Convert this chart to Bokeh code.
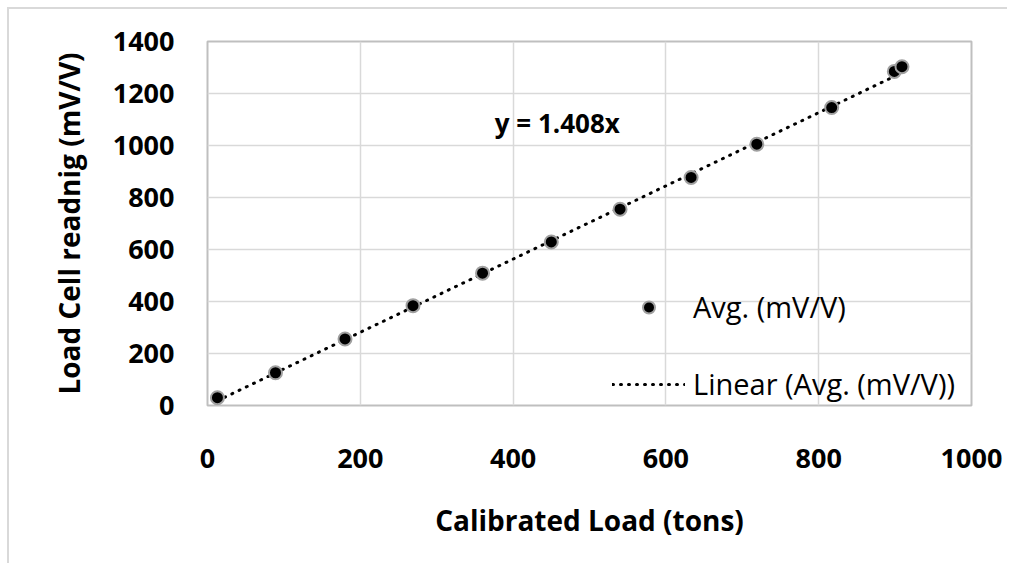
from bokeh.plotting import figure
from bokeh.models import Range1d, FixedTicker, Legend, LegendItem, Label
from bokeh.embed import file_html
from bokeh.resources import INLINE

# ---- data ----
load_tons = [13, 89, 180, 269, 360, 450, 540, 633, 719, 817, 899, 909]
avg_mv_v = [30, 126, 256, 384, 509, 629, 755, 877, 1005, 1146, 1285, 1303]
slope = 1.408
x_ticks = [0, 200, 400, 600, 800, 1000]
y_ticks = [0, 200, 400, 600, 800, 1000, 1200, 1400]
x_label = "Calibrated Load (tons)"
y_label = "Load Cell readnig (mV/V)"
series_name = "Avg. (mV/V)"
trend_name = "Linear (Avg. (mV/V))"
eq_text = "y = 1.408x"

FONT = "Open Sans"

p = figure(width=1000, height=556, output_backend="svg", toolbar_location=None,
           x_range=Range1d(0, 1000), y_range=Range1d(0, 1400),
           min_border_left=198, min_border_top=32, min_border_right=38,
           min_border_bottom=160,
           background_fill_color="white", border_fill_color="white",
           styles={"border-left": "2px solid #d9d9d9", "border-top": "2px solid #d9d9d9",
                   "margin-left": "7px", "margin-top": "7px"})

p.outline_line_color = "#bfbfbf"
p.outline_line_width = 2

for ax, ticks in ((p.xaxis, x_ticks), (p.yaxis, y_ticks)):
    ax.ticker = FixedTicker(ticks=ticks)
    ax.axis_line_color = None
    ax.major_tick_line_color = None
    ax.minor_tick_line_color = None
    ax.major_label_text_font = FONT
    ax.major_label_text_font_style = "bold"
    ax.major_label_text_font_size = "27px"
    ax.major_label_text_color = "black"
    ax.axis_label_text_font = FONT
    ax.axis_label_text_font_style = "bold"
    ax.axis_label_text_font_size = "28px"
    ax.axis_label_text_color = "black"

p.xaxis.axis_label = x_label
p.yaxis.axis_label = y_label
p.xaxis.major_label_standoff = 37
p.yaxis.major_label_standoff = 27
p.xaxis.axis_label_standoff = 30
p.yaxis.axis_label_standoff = 22

p.xgrid.ticker = FixedTicker(ticks=x_ticks)
p.ygrid.ticker = FixedTicker(ticks=y_ticks)
p.grid.grid_line_color = "#d9d9d9"
p.grid.grid_line_width = 1.5

# trendline through origin
tx = [min(load_tons), max(load_tons)]
ty = [slope * v for v in tx]
trend = p.line(tx, ty, line_color="black", line_width=3, line_dash="1 7",
               line_cap="round")

pts = p.scatter(load_tons, avg_mv_v, size=13, fill_color="black",
                line_color="#a0a0a0", line_width=2)

p.add_layout(Label(x=376, y=1085, text=eq_text, text_font=FONT,
                   text_font_style="bold", text_font_size="26px",
                   text_color="black", text_baseline="middle"))

legend = Legend(items=[LegendItem(label=series_name, renderers=[pts]),
                       LegendItem(label=trend_name, renderers=[trend])],
                location=(405, 2), padding=0, margin=0, spacing=38,
                glyph_width=73, glyph_height=30, label_height=30,
                label_standoff=8, label_text_font=FONT,
                label_text_font_size="29px", label_text_color="black",
                background_fill_alpha=0, border_line_alpha=0)
p.add_layout(legend)

open("out.html", "w").write(file_html(p, INLINE))
